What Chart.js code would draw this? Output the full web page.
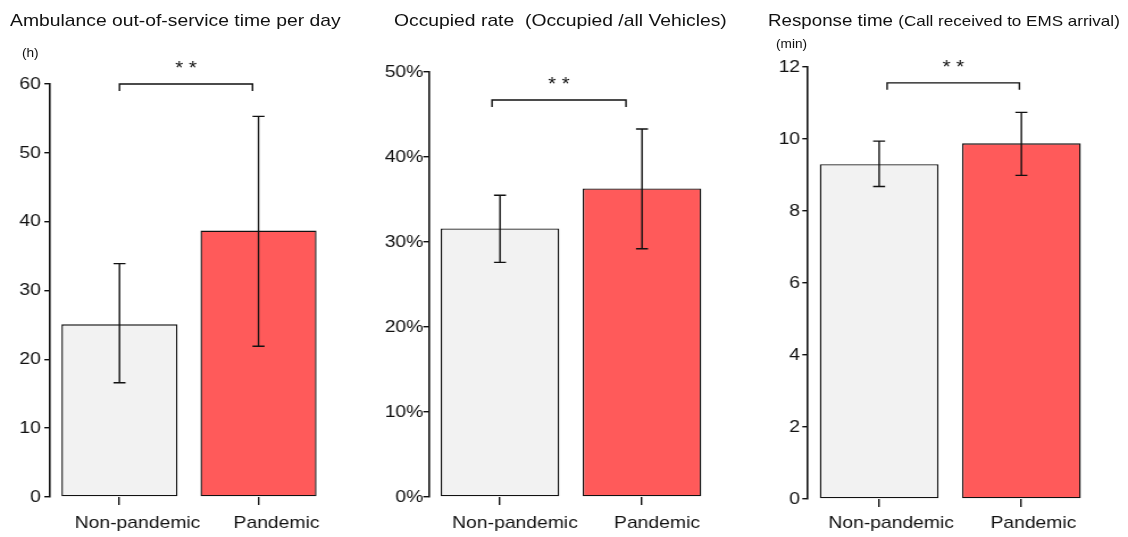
<!DOCTYPE html>
<html><head><meta charset="utf-8">
<script src="https://cdn.jsdelivr.net/npm/chart.js@4/dist/chart.umd.min.js"></script>
<style>
html,body{margin:0;padding:0;background:#fff;}
#wrap{position:relative;width:1128px;height:537px;overflow:hidden;background:#fff;}
canvas{position:absolute;top:0;}
.t{position:absolute;font-family:"Liberation Sans",Arial,sans-serif;color:#111;white-space:nowrap;transform-origin:0 0;transform:scaleX(1.136);line-height:1;}
</style></head><body>
<div id="wrap">
<canvas id="c1" width="331" height="537" style="left:0px;width:376px;height:537px"></canvas>
<canvas id="c2" width="331" height="537" style="left:376px;width:376px;height:537px"></canvas>
<canvas id="c3" width="331" height="537" style="left:752px;width:376px;height:537px"></canvas>
<div class="t" style="left:10px;top:12px;font-size:17px">Ambulance out-of-service time per day</div>
<div class="t" style="left:22px;top:47px;font-size:12px">(h)</div>
<div class="t" style="left:394px;top:12px;font-size:17px">Occupied rate&nbsp; (Occupied /all Vehicles)</div>
<div class="t" style="left:768px;top:12px;font-size:16.5px">Response time <span style="font-size:15px">(Call received to EMS arrival)</span></div>
<div class="t" style="left:776px;top:38px;font-size:12px">(min)</div>
</div>
<script>
const categories = ['Non-pandemic', 'Pandemic'];
const outOfServiceMean = [25.1, 38.7];
const outOfServiceLow = [16.6, 21.9];
const outOfServiceHigh = [33.9, 55.3];
const occupiedMean = [31.6, 36.3];
const occupiedLow = [27.6, 29.2];
const occupiedHigh = [35.5, 43.3];
const responseMean = [9.3, 9.88];
const responseLow = [8.68, 8.99];
const responseHigh = [9.94, 10.74];
const outOfServiceTicks = [0, 10, 20, 30, 40, 50, 60];
const occupiedTicks = [0, 10, 20, 30, 40, 50];
const responseTicks = [0, 2, 4, 6, 8, 10, 12];
const significance = '* *';

const S = 376 / 331;
const FONT = '"Liberation Sans", Arial, sans-serif';

const annot = {
  id: 'annot',
  afterDatasetsDraw(chart, args, o) {
    const ctx = chart.ctx, x = chart.scales.x, y = chart.scales.y;
    ctx.save();
    ctx.strokeStyle = '#111';
    ctx.lineWidth = 1.4;
    const cw = o.cap / S / 2;
    o.lo.forEach((lo, i) => {
      const cx = x.getPixelForValue(i);
      const y1 = y.getPixelForValue(o.hi[i]), y2 = y.getPixelForValue(lo);
      ctx.beginPath();
      ctx.moveTo(cx, y1); ctx.lineTo(cx, y2);
      ctx.moveTo(cx - cw, y1); ctx.lineTo(cx + cw, y1);
      ctx.moveTo(cx - cw, y2); ctx.lineTo(cx + cw, y2);
      ctx.stroke();
    });
    const bx1 = x.getPixelForValue(0) + o.bOff[0] / S;
    const bx2 = x.getPixelForValue(1) + o.bOff[1] / S;
    const by = y.getPixelForValue(o.bVal);
    ctx.beginPath();
    ctx.moveTo(bx1, by + 7); ctx.lineTo(bx1, by); ctx.lineTo(bx2, by); ctx.lineTo(bx2, by + 7);
    ctx.stroke();
    ctx.fillStyle = '#111';
    ctx.font = '18px ' + FONT;
    ctx.textAlign = 'center';
    ctx.textBaseline = 'middle';
    ctx.fillText(o.label, (bx1 + bx2) / 2, by - 15);
    ctx.restore();
  }
};

function makeChart(id, means, lo, hi, ticks, fmt, L) {
  new Chart(document.getElementById(id), {
    type: 'bar',
    data: {
      labels: categories,
      datasets: [{
        data: means,
        backgroundColor: ['#f2f2f2', '#ff5a5a'],
        borderColor: '#111',
        borderWidth: 1.4,
        borderSkipped: false,
        barPercentage: 0.835,
        categoryPercentage: 1
      }]
    },
    options: {
      responsive: false,
      animation: false,
      devicePixelRatio: 1,
      layout: { padding: { left: 0, right: L.right, top: L.top, bottom: 0 } },
      plugins: {
        legend: { display: false },
        tooltip: { enabled: false },
        annot: { lo: lo, hi: hi, cap: 12, bOff: L.bOff, bVal: L.bVal, label: significance }
      },
      scales: {
        x: {
          grid: { offset: false, drawOnChartArea: false, drawTicks: true, tickLength: 8, color: '#111', lineWidth: 1.4 },
          border: { display: false },
          ticks: { color: '#111', font: { size: 17, family: FONT }, padding: L.xp, labelOffset: L.lo / S, maxRotation: 0, autoSkip: false },
          afterFit: s => { s.height = L.xh; }
        },
        y: {
          min: 0,
          max: ticks[ticks.length - 1],
          afterBuildTicks: s => { s.ticks = ticks.map(v => ({ value: v })); },
          grid: { drawOnChartArea: false, drawTicks: true, tickLength: 5, color: '#111', lineWidth: 1.4 },
          border: { display: true, color: '#111', width: 1.6 },
          ticks: { color: '#111', font: { size: 17, family: FONT }, padding: L.tp, callback: fmt },
          afterFit: s => { s.width = L.yw; }
        }
      }
    },
    plugins: [annot]
  });
}

makeChart('c1', outOfServiceMean, outOfServiceLow, outOfServiceHigh, outOfServiceTicks, v => String(v),
  { yw: 50 / S, right: 331 - 328 / S, top: 84, xh: 40, tp: 3, xp: 8, lo: 18, bOff: [0, -6], bVal: 60 });
makeChart('c2', occupiedMean, occupiedLow, occupiedHigh, occupiedTicks, v => v + '%',
  { yw: 53 / S, right: 331 - 337 / S, top: 72, xh: 40, tp: 0, xp: 8, lo: 15, bOff: [-8, -16], bVal: 46.7 });
makeChart('c3', responseMean, responseLow, responseHigh, responseTicks, v => String(v),
  { yw: 56 / S, right: 331 - 340.5 / S, top: 67, xh: 38, tp: 2, xp: 6, lo: 12, bOff: [8, -2], bVal: 11.56 });
</script>
</body></html>
